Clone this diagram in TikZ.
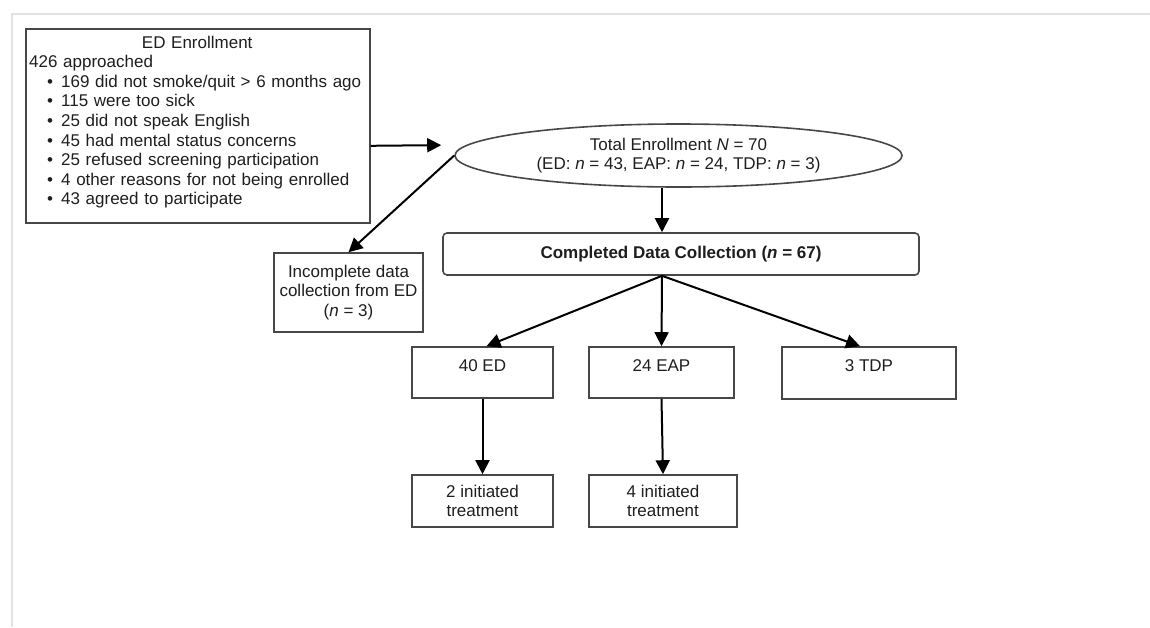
\documentclass[tikz,border=0pt]{standalone}
\usepackage{fontspec}
\setmainfont{Liberation Sans}
\usetikzlibrary{shapes.geometric,arrows.meta}
\definecolor{boxc}{HTML}{474747}
\definecolor{txt}{HTML}{1E1E1E}
\definecolor{framec}{HTML}{E2E2E2}
\begin{document}
\begin{tikzpicture}[x=1pt,y=-1pt,
  every node/.style={font=\fontsize{17}{19.6}\selectfont, text=txt},
  box/.style={draw=boxc, line width=1.6pt, inner sep=0pt, align=center},
  toptext/.style={text height=12pt, text depth=15pt},
  arr/.style={draw=black, line width=2pt, -{Triangle[length=14pt,width=14pt]}},
]
\useasboundingbox (0,0) rectangle (1150,627);
% faint frame
\draw[framec, line width=2pt] (11.5,627) -- (11.5,14) -- (1150,14);

% ED enrollment box
\node[box, minimum width=344pt, minimum height=194pt, anchor=north west] (ed) at (25,28) {};
\node[anchor=north west, inner sep=0pt, text width=336pt, align=left] (edtext) at (29,35.5)
 {\makebox[336pt]{ED Enrollment}\\
  426 approached\\
  \hspace*{18pt}\textbullet\hspace{8pt}169 did not smoke/quit > 6 months ago\\
  \hspace*{18pt}\textbullet\hspace{8pt}115 were too sick\\
  \hspace*{18pt}\textbullet\hspace{8pt}25 did not speak English\\
  \hspace*{18pt}\textbullet\hspace{8pt}45 had mental status concerns\\
  \hspace*{18pt}\textbullet\hspace{8pt}25 refused screening participation\\
  \hspace*{18pt}\textbullet\hspace{8pt}4 other reasons for not being enrolled\\
  \hspace*{18pt}\textbullet\hspace{8pt}43 agreed to participate};

% total enrollment ellipse
\node[box, ellipse, minimum width=447pt, minimum height=63pt] (tot) at (678.5,155.5)
 {Total Enrollment \textit{N} = 70\\(ED: \textit{n} = 43, EAP: \textit{n} = 24, TDP: \textit{n} = 3)};

% completed
\node[box, rounded corners=4pt, minimum width=476pt, minimum height=42pt] (comp) at (681,254)
 {\textbf{Completed Data Collection (\textit{n} = 67)}};

% incomplete
\node[box, minimum width=149pt, minimum height=79pt] (inc) at (348.5,292.5)
 {Incomplete data\\collection from ED\\(\textit{n} = 3)};

% groups
\node[box, toptext, minimum width=141pt, minimum height=51pt] (ged) at (482.5,372.5) {40 ED};
\node[box, toptext, minimum width=145pt, minimum height=51pt] (geap) at (661.5,372.5) {24 EAP};
\node[box, toptext, minimum width=174pt, minimum height=52pt] (gtdp) at (869,373) {3 TDP};

% treatment
\node[box, minimum width=141pt, minimum height=52pt] (ted) at (482.5,501) {2 initiated\\treatment};
\node[box, minimum width=148pt, minimum height=52pt] (teap) at (663,501) {4 initiated\\treatment};

% connectors
\coordinate (split) at ([xshift=-19pt]comp.south);
\draw[arr, shorten >=13pt] ([yshift=-20pt]ed.east) -- ([yshift=10.5pt]tot.west);
\draw[arr] (tot.west) -- (inc.north);
\draw[arr] (tot.south -| split) -- (comp.north -| split);
\draw[arr] (split) -- ([xshift=4pt]ged.north);
\draw[arr] (split) -- (geap.north);
\draw[arr] (split) -- ([xshift=-9pt]gtdp.north);
\draw[arr] (ged.south) -- (ted.north);
\draw[arr] (geap.south) -- (teap.north);
\end{tikzpicture}
\end{document}
